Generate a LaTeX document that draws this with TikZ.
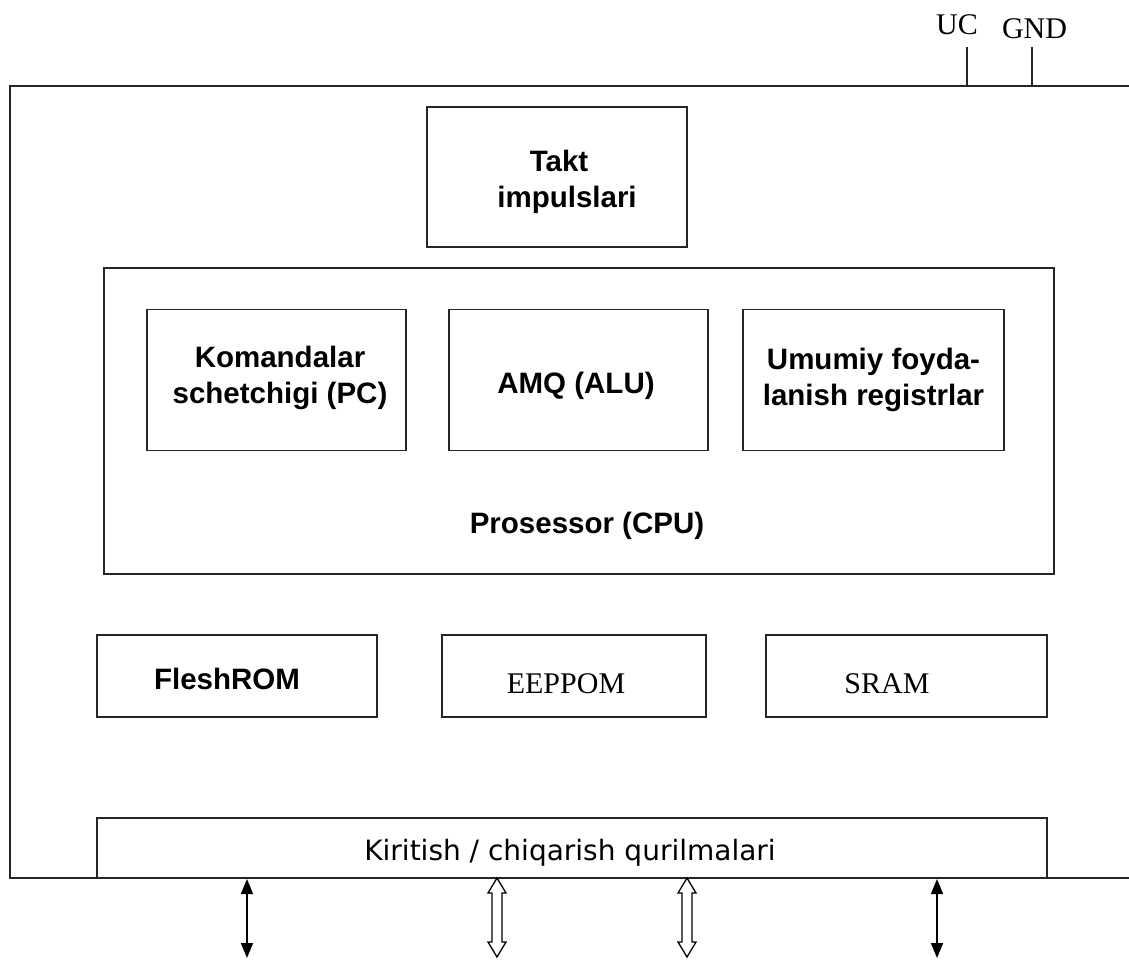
\documentclass[tikz,border=0pt]{standalone}
\usepackage{fontspec}
\setmainfont{Liberation Sans}
\newfontfamily\serifface{Liberation Serif}
\newfontfamily\ioface{DejaVu Sans}
\usetikzlibrary{arrows.meta}
\begin{document}
\begin{tikzpicture}[x=1pt,y=-1pt,
  frame/.style={line width=2pt, draw=black!85},
  box/.style={draw=black!85, line width=1.8pt, rectangle, inner sep=0pt, align=center,
    font=\fontsize{29.5}{36}\selectfont\bfseries},
  txt/.style={inner sep=0pt, align=center, font=\fontsize{29.5}{36}\selectfont\bfseries},
  lbl/.style={font=\fontsize{29.5}{36}\selectfont\bfseries, inner sep=0pt, anchor=base},
  slbl/.style={font=\serifface\fontsize{30}{36}\selectfont, inner sep=0pt, anchor=base},
  iolbl/.style={font=\ioface\fontsize{28}{34}\selectfont, inner sep=0pt, anchor=base},
  thinarrow/.style={line width=1.6pt, draw=black,
    {Triangle[length=15pt,width=12pt]}-{Triangle[length=15pt,width=12pt]}},
  hollow/.style={draw=black, line width=1.3pt, fill=white, line join=miter},
  hollowarrow/.pic={\draw[hollow] (0,0) -- (9,15) -- (5,15) -- (5,64) -- (9,64)
    -- (0,79) -- (-9,64) -- (-5,64) -- (-5,15) -- (-9,15) -- cycle;}
]
\useasboundingbox (0,0) rectangle (1129,960);

% outer frame (open on the right)
\coordinate (fTR) at (1129,86);
\coordinate (fTL) at (10,86);
\coordinate (fBL) at (10,878);
\coordinate (fBR) at (1129,878);
\draw[frame] (fTR) -- (fTL) -- (fBL) -- (fBR);

% supply pins
\node[slbl] (uc) at (957,35) {UC};
\node[slbl] (gnd) at (1034.5,39) {GND};
\coordinate (ucpin) at (967,47);
\coordinate (gndpin) at (1032,47);
\draw[frame] (ucpin) -- (ucpin |- fTL);
\draw[frame] (gndpin) -- (gndpin |- fTL);

% clock
\node[box, minimum width=260, minimum height=140] (takt) at (557,177) {};
\node[txt] (taktlbl) at (559,182) {Takt\\\hspace{16pt}impulslari};

% CPU
\node[box, minimum width=950, minimum height=306] (cpu) at (579,421) {};
\node[lbl] (cpulbl) at (587,533) {Prosessor (CPU)};
\node[box, minimum width=259, minimum height=141] (pc) at (276.5,380) {};
\node[txt] (pclbl) at (280,378) {Komandalar\\schetchigi (PC)};
\node[box, minimum width=259, minimum height=141] (alu) at (578.5,380) {};
\node[lbl] (alulbl) at (576,393) {AMQ (ALU)};
\node[box, minimum width=261, minimum height=141] (reg) at (873.5,380)
  {Umumiy foyda-\\lanish registrlar};

% memories
\node[box, minimum width=280, minimum height=82] (flash) at (237,676) {};
\node[lbl] (flashlbl) at (227,689) {FleshROM};
\node[box, minimum width=264, minimum height=82] (eeprom) at (574,676) {};
\node[slbl] (eepromlbl) at (566,693) {EEPPOM};
\node[box, minimum width=281, minimum height=82] (sram) at (906.5,676) {};
\node[slbl] (sramlbl) at (887,693) {SRAM};

% I/O
\node[box, minimum width=950, minimum height=60] (io) at (572,848) {};
\node[iolbl] (iolbl) at (570,860) {Kiritish / chiqarish qurilmalari};

% ports
\coordinate (p1t) at (247,879);
\coordinate (p1b) at (247,958);
\coordinate (p4t) at (937,879);
\coordinate (p4b) at (937,958);
\draw[thinarrow] (p1t) -- (p1b);
\draw[thinarrow] (p4t) -- (p4b);
\pic at (497,878) {hollowarrow};
\pic at (687,878) {hollowarrow};
\end{tikzpicture}
\end{document}
